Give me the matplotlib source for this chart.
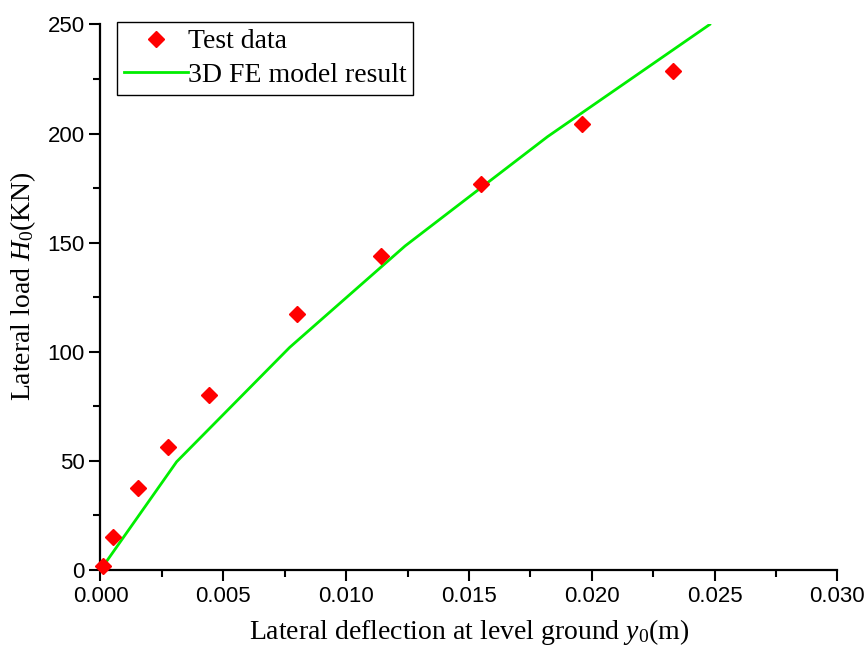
import matplotlib
matplotlib.use('Agg')
import matplotlib.pyplot as plt
from matplotlib.ticker import MultipleLocator

plt.rcParams['mathtext.fontset'] = 'custom'
plt.rcParams['mathtext.rm'] = 'Liberation Serif'
plt.rcParams['mathtext.it'] = 'Liberation Serif:italic'

# test data (deflection m, load KN)
test_y0 = [0.0001, 0.00052, 0.00154, 0.00273, 0.00440, 0.0080, 0.0114, 0.0155, 0.0196, 0.0233]
test_H0 = [2, 15.2, 37.4, 56.2, 80.3, 117.2, 143.8, 176.7, 204.2, 228.6]

# 3D FE model curve
fe_y0 = [0.0, 0.0031, 0.0077, 0.0124, 0.0182, 0.0248]
fe_H0 = [0.0, 49.6, 102, 148.5, 198.6, 250]

fig = plt.figure(figsize=(8.67, 6.48), dpi=100)
ax = fig.add_axes([0.1159, 0.1204, 0.850, 0.8418])

ax.plot(fe_y0, fe_H0, color='#00ee00', linewidth=2, label='3D FE model result', zorder=2)
ax.plot(test_y0, test_H0, linestyle='none', marker='D', markersize=8.5,
        color='red', markeredgecolor='red', label='Test data', zorder=3, clip_on=False)

ax.set_xlim(0, 0.030)
ax.set_ylim(0, 250)
ax.xaxis.set_major_locator(MultipleLocator(0.005))
ax.xaxis.set_minor_locator(MultipleLocator(0.0025))
ax.yaxis.set_major_locator(MultipleLocator(50))
ax.yaxis.set_minor_locator(MultipleLocator(25))
ax.xaxis.set_major_formatter(plt.FuncFormatter(lambda v, p: '%.3f' % v))

for s in ['top', 'right']:
    ax.spines[s].set_visible(False)
for s in ['left', 'bottom']:
    ax.spines[s].set_linewidth(1.6)

ax.tick_params(which='major', direction='out', length=8, width=1.5,
               labelsize=16, labelfontfamily='Liberation Sans')
ax.tick_params(which='minor', direction='out', length=5, width=1.5)

ax.set_xlabel(r'Lateral deflection at level ground $\mathit{y}_{\mathit{0}}$(m)',
              fontsize=20, family='Liberation Serif', labelpad=7)
ax.set_ylabel(r'Lateral load $\mathit{H}_{\mathit{0}}$(KN)',
              fontsize=20, family='Liberation Serif')
ax.yaxis.set_label_coords(-0.085, 0.52)

handles, labels = ax.get_legend_handles_labels()
leg = ax.legend(handles[::-1], labels[::-1], loc='upper left', bbox_to_anchor=(0.0224, 1.0046),
                prop={'family': 'Liberation Serif', 'size': 20}, frameon=True,
                fancybox=False, edgecolor='black', framealpha=1,
                handlelength=2.3, handletextpad=0.0, borderpad=0.25, borderaxespad=0,
                labelspacing=0.3)
leg.get_frame().set_linewidth(1.0)

fig.savefig('out.png', dpi=100)
